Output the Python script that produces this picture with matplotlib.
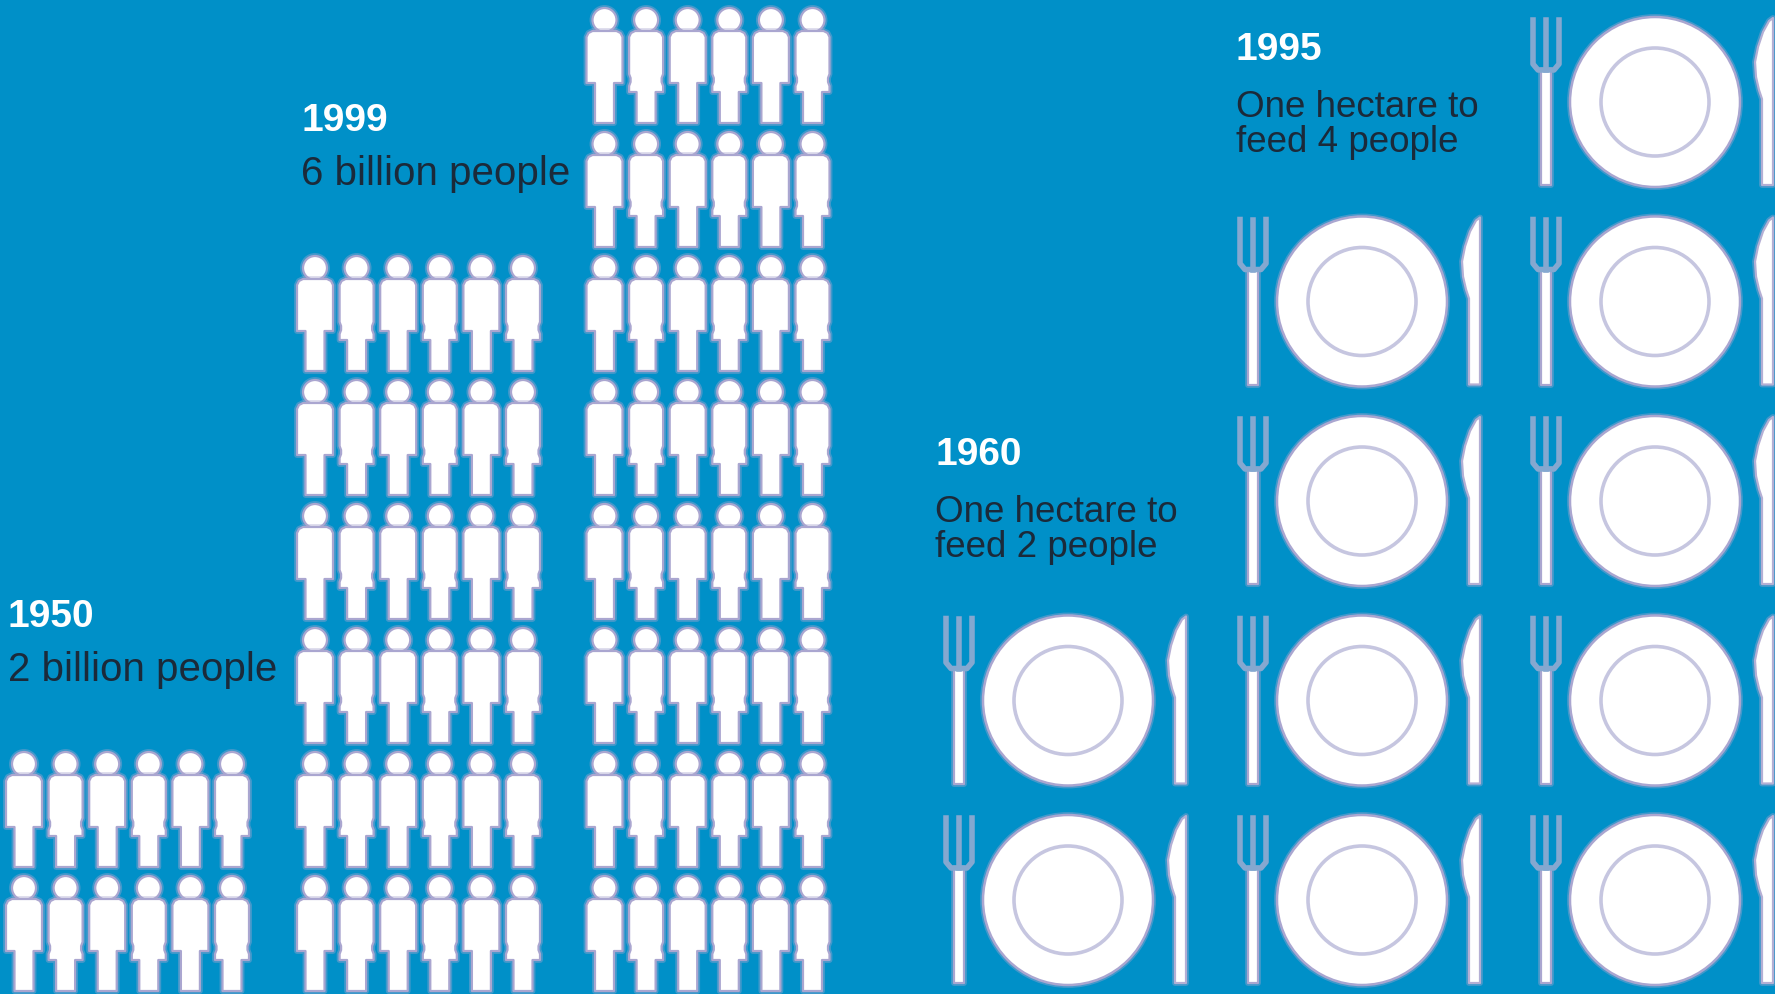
# Population growth and shrinking farmland per person, drawn as pictograms.
import numpy as np
import matplotlib
matplotlib.use("Agg")
import matplotlib.pyplot as plt
import matplotlib.patheffects as pe
from matplotlib.patches import Circle, Polygon

# Rows of six people for each group, and the group captions
people_rows = [2, 6, 8]
people_left = [24, 315, 604.5]
people_year = ["1950", "1999"]
people_text = ["2 billion people", "6 billion people"]
people_title_pos = [(8, 627), (301, 131)]

# Place settings per column, and the captions above them
plate_counts = [2, 4, 5]
plate_x = [1068, 1362, 1655]
plate_year = ["1960", "", "1995"]
plate_text = [["One hectare to", "feed 2 people"], [], ["One hectare to", "feed 4 people"]]
plate_title_pos = [(935, 465), None, (1236, 60)]

BG = "#0090c8"
EDGE = "#aaa6d0"
DARK = "#1b2a3a"
COLUMNS = 6
COL_STEP = 41.6
ROW_STEP = 124
LAST_HEAD = 877
PLATE_STEP = 199.5
LAST_PLATE = 901

plt.rcParams["font.family"] = ["Liberation Sans", "DejaVu Sans"]

fig = plt.figure(figsize=(17.75, 9.95), dpi=100, facecolor=BG)
ax = fig.add_axes([0, 0, 1, 1], facecolor=BG)
ax.set_xlim(0, 1775)
ax.set_ylim(995, 0)
ax.axis("off")

# soft lavender fringe round every white shape
FRINGE = [pe.Stroke(linewidth=4.2, foreground=EDGE, alpha=0.4), pe.Normal()]

# Outlines relative to the centre of the body and the top of the head
MAN = np.array([(-12, 23), (12, 23), (16, 25), (18, 29), (18, 75), (9.5, 75), (9.5, 115),
                (-9.5, 115), (-9.5, 75), (-18, 75), (-18, 29), (-16, 25)])
WOMAN = np.array([(-11, 23), (11, 23), (15, 25), (17, 29), (17, 66), (15.5, 70), (15.5, 74), (17, 78),
                  (17, 84), (9.5, 84), (9.5, 115), (-9.5, 115), (-9.5, 84), (-17, 84), (-17, 78),
                  (-15.5, 74), (-15.5, 70), (-17, 66), (-17, 29), (-15, 25)])
# blade bulges on the left, the back of the knife is straight
KNIFE = np.array([(0, -84), (-4, -81), (-10, -70), (-15, -55), (-18, -40), (-17, -25), (-14, -12),
                  (-11, -3), (-11, 83), (0, 83)])
FORK_STEM = np.array([(-5, -32), (5, -32), (5, 83), (-5, 83)])


def shape(points, x, y, **kw):
    style = dict(closed=True, facecolor="white", edgecolor=EDGE, lw=1.6, joinstyle="round",
                 path_effects=FRINGE)
    style.update(kw)
    ax.add_patch(Polygon(np.asarray(points) + (x, y), **style))


def person(x, top, woman):
    ax.add_patch(Circle((x, top + 12), 12, facecolor="white", edgecolor=EDGE, lw=1.6,
                        path_effects=FRINGE))
    shape(WOMAN if woman else MAN, x, top)


def place_setting(x, y):
    # plate
    ax.add_patch(Circle((x, y), 85, facecolor="white", edgecolor=EDGE, lw=1.8, path_effects=FRINGE))
    ax.add_patch(Circle((x, y), 54, facecolor="white", edgecolor="#c6c6e0", lw=2.6))

    # fork tines and handle
    fx = x - 109
    tine = dict(color="#85a8d0", lw=4.0, solid_joinstyle="round")
    ax.plot([fx - 13, fx - 13, fx - 8, fx + 8, fx + 13, fx + 13],
            [y - 82, y - 38, y - 32, y - 32, y - 38, y - 82], **tine)
    ax.plot([fx, fx], [y - 82, y - 32], **tine)
    shape(FORK_STEM, fx, y)

    # knife blade and handle
    shape(KNIFE, x + 118, y, edgecolor="#b4afd4")


for rows, left in zip(people_rows, people_left):
    for r in range(rows):
        for c in range(COLUMNS):
            person(left + c * COL_STEP, LAST_HEAD - r * ROW_STEP, c % 2 == 1)

for count, x in zip(plate_counts, plate_x):
    for r in range(count):
        place_setting(x, LAST_PLATE - r * PLATE_STEP)

# Captions
for year, text, pos in zip(people_year, people_text, people_title_pos):
    ax.text(pos[0], pos[1], year, color="white", fontsize=28, fontweight="bold", va="baseline")
    ax.text(pos[0], pos[1] + 54, text, color=DARK, fontsize=29, va="baseline")

for year, lines, pos in zip(plate_year, plate_text, plate_title_pos):
    if pos is None:
        continue
    ax.text(pos[0], pos[1], year, color="white", fontsize=28, fontweight="bold", va="baseline")
    for i, line in enumerate(lines):
        ax.text(pos[0], pos[1] + 57 + i * 35, line, color=DARK, fontsize=26.5, va="baseline")

fig.savefig("out.png", dpi=100, facecolor=BG)
